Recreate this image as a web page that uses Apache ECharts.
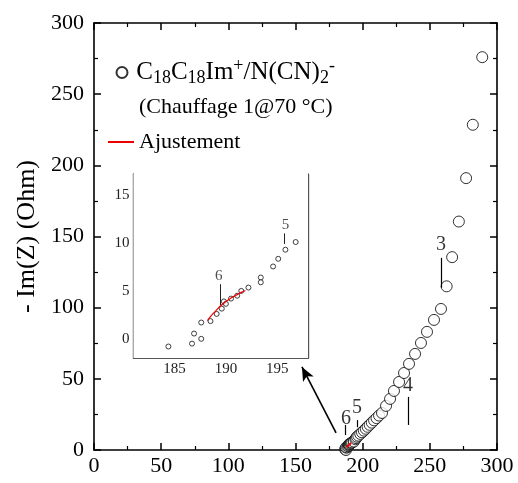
<!DOCTYPE html>
<html><head><meta charset="utf-8">
<script src="https://cdn.jsdelivr.net/npm/echarts@6/dist/echarts.min.js"></script>
<style>html,body{margin:0;padding:0;background:#fff}#c{width:518px;height:483px}</style>
</head><body><div id="c"></div>
<script>
// ---- data ----
const insetX = [184.4,186.7,186.9,187.6,187.6,188.5,189.1,189.6,189.8,190.0,190.5,191.1,191.5,192.2,193.4,193.4,194.6,195.1,195.8,196.8];
const insetY = [-0.8,-0.5,0.55,0.0,1.7,1.85,2.6,3.15,3.9,3.65,4.2,4.5,5.0,5.35,6.4,5.9,7.55,8.35,9.3,10.1];
const outerX = [198.2,199.5,200.9,202.3,203.7,205.2,206.8,208.5,210.3,212.2,214.4,217.4,220.4,223.3,227.1,230.8,234.5,239.0,243.4,247.9,253.1,258.3,262.5,266.6,271.6,277.0,282.0,289.0];
const outerY = [11.3,12.4,13.6,14.9,16.3,17.7,19.2,20.8,22.4,24.2,26.0,31.0,35.9,41.5,47.8,54.1,60.5,67.5,75.2,83.0,91.4,99.1,115.0,135.5,160.5,191.0,228.5,276.0];
const fitX = [188.2,188.6,189.0,189.5,190.0,190.5,191.0,191.5,191.9];
const fitY = [1.9,2.45,2.9,3.45,3.9,4.25,4.55,4.85,5.05];
const mainTicks = [0,50,100,150,200,250,300];
const insetXTicks = [185,190,195];
const insetXMinor = [182.5,187.5,192.5,197.5];
const insetYTicks = [0,5,10,15];
const insetYMinor = [-2.5,2.5,7.5,12.5];
// annotation labels: text, x, y, leader line from y1 to y2
const mainNoteText = ['3','4','5','6'];
const mainNoteX = [258.3,233.8,195.8,187.5];
const mainNoteY = [144,45.0,30,22];
const mainLeadX = [258.3,233.8,195.6,187.3];
const mainLeadY1 = [135,37.3,21,17.6];
const mainLeadY2 = [114,17.6,16,10.5];
const insetNoteText = ['6','5'];
const insetNoteX = [189.3,195.8];
const insetNoteY = [6.6,11.9];
const insetLeadX = [189.43,195.7];
const insetLeadY1 = [5.7,11.0];
const insetLeadY2 = [3.5,9.9];
const arrowFrom = [180.2,12];
const arrowTo = [154.8,58.4];
const seriesName = 'C18C18Im+/N(CN)2-';
const fitName = 'Ajustement';
const subtitle = '(Chauffage 1@70 °C)';

// ---- build ----
const zip = (a,b) => a.map((v,i)=>[v,b[i]]);
const allX = insetX.concat(outerX), allY = insetY.concat(outerY);
const F = 'Liberation Serif';
const black = '#000';

function mainAxis(type, pos, showLabel, extra){
  return Object.assign({
    type:'value', gridIndex:0, position:pos, min:0, max:300, interval:50,
    axisLine:{show:true, onZero:false, lineStyle:{color:black, width:1.6}},
    axisTick:{show:true, inside:true, length:7, lineStyle:{color:black, width:1.5}},
    minorTick:{show:true, splitNumber:2, length:4, lineStyle:{color:black, width:1.2}},
    splitLine:{show:false},
    axisLabel:{show:showLabel, fontFamily:F, fontSize:22, color:black, margin: type==='x'?5:10}
  }, extra||{});
}
function insetAxis(pos, min, max, ticks, isMinor, showLabel){
  return {
    type:'value', gridIndex:1, position:pos, min:min, max:max,
    axisLine:{show:true, onZero:false, lineStyle:{color:'#555', width:1.2}},
    axisTick:{show:true, inside:true, length: isMinor?2.5:4.5, customValues:ticks, lineStyle:{color:'#444', width:1}},
    splitLine:{show:false},
    axisLabel:{show:showLabel, customValues:ticks, fontFamily:F, fontSize:15, color:'#222', margin:4}
  };
}

const option = {
  animation:false,
  backgroundColor:'#fff',
  grid:[
    {left:94, right:21, top:23, bottom:33},
    {left:133.5, top:174, width:174.5, height:184, show:true, backgroundColor:'#fff', borderWidth:0, z:5}
  ],
  title:{text:subtitle, left:139, top:96, padding:0, textStyle:{fontFamily:F, fontSize:22, fontWeight:'normal', color:black}},
  legend:[
    {data:[seriesName], left:115.5, top:57, padding:0, itemWidth:18.5, itemHeight:11, itemGap:5,
     formatter:()=>'{n|C}{s|18}{n|C}{s|18}{n|Im}{p|+}{n|/N(CN)}{s|2}{p|-}',
     textStyle:{color:black, rich:{
       n:{fontFamily:F, fontSize:25, color:black, verticalAlign:'middle'},
       s:{fontFamily:F, fontSize:18, color:black, padding:[12,0,0,0], verticalAlign:'middle'},
       p:{fontFamily:F, fontSize:18, color:black, padding:[0,0,13,0], verticalAlign:'middle'}
     }}},
    {data:[{name:fitName, icon:'rect'}], left:108, top:131, padding:0, itemWidth:26, itemHeight:2,
     textStyle:{fontFamily:F, fontSize:22, color:black}}
  ],
  xAxis:[
    mainAxis('x','bottom',true),
    mainAxis('x','top',false),
    insetAxis('bottom',181,198,insetXTicks,false,true),
    insetAxis('bottom',181,198,insetXMinor,true,false),
    insetAxis('top',181,198,insetXTicks,false,false),
    insetAxis('top',181,198,insetXMinor,true,false)
  ],
  yAxis:[
    mainAxis('y','left',true,{name:'- Im(Z) (Ohm)', nameLocation:'middle', nameGap:50, nameRotate:90,
      nameTextStyle:{fontFamily:F, fontSize:26, color:black}}),
    mainAxis('y','right',false),
    insetAxis('left',-2,17.2,insetYTicks,false,true),
    insetAxis('left',-2,17.2,insetYMinor,true,false),
    insetAxis('right',-2,17.2,insetYTicks,false,false),
    insetAxis('right',-2,17.2,insetYMinor,true,false)
  ],
  series:[
    {name:seriesName, type:'scatter', xAxisIndex:0, yAxisIndex:0, data:zip(allX,allY),
     symbol:'circle', symbolSize:11, itemStyle:{color:'#fff', borderColor:black, borderWidth:1}, z:3,
     markLine:{silent:true, symbol:['none','none'], label:{show:false},
       lineStyle:{color:black, width:1.2, type:'solid'},
       data: mainLeadX.map((x,i)=>[{coord:[x,mainLeadY1[i]]},{coord:[x,mainLeadY2[i]]}])
     }},
    {name:fitName, type:'line', xAxisIndex:0, yAxisIndex:0, data:zip(fitX,fitY), symbol:'none', showSymbol:false,
     lineStyle:{color:'#e00', width:2}, itemStyle:{color:'#e00'}, z:4},
    {type:'line', xAxisIndex:0, yAxisIndex:0, data:[], z:6,
     markLine:{silent:true, symbol:['arrow','none'], symbolSize:[9,14], label:{show:false},
       lineStyle:{color:black, width:1.6, type:'solid'},
       data:[[{coord:arrowTo},{coord:arrowFrom}]]}},
    {type:'scatter', xAxisIndex:0, yAxisIndex:0, symbolSize:0, z:8,
     data: mainNoteText.map((t,i)=>({value:[mainNoteX[i],mainNoteY[i]], label:{formatter:t}})),
     label:{show:true, position:'inside', fontFamily:F, fontSize:20, color:black}},
    {type:'scatter', xAxisIndex:2, yAxisIndex:2, data:zip(insetX,insetY), symbol:'circle', symbolSize:5,
     itemStyle:{color:'#fff', borderColor:'#111', borderWidth:1}, z:10,
     markLine:{silent:true, symbol:['none','none'], label:{show:false},
       lineStyle:{color:'#222', width:1, type:'solid'},
       data: insetLeadX.map((x,i)=>[{coord:[x,insetLeadY1[i]]},{coord:[x,insetLeadY2[i]]}])}},
    {type:'line', xAxisIndex:2, yAxisIndex:2, data:zip(fitX,fitY), symbol:'none', smooth:true,
     lineStyle:{color:'#e00', width:1.2}, z:11},
    {type:'scatter', xAxisIndex:2, yAxisIndex:2, symbolSize:0, z:11,
     data: insetNoteText.map((t,i)=>({value:[insetNoteX[i],insetNoteY[i]], label:{formatter:t}})),
     label:{show:true, position:'inside', fontFamily:F, fontSize:15, color:'#222'}}
  ]
};
const chart = echarts.init(document.getElementById('c'), null, {renderer:'canvas'});
chart.setOption(option);
</script></body></html>
